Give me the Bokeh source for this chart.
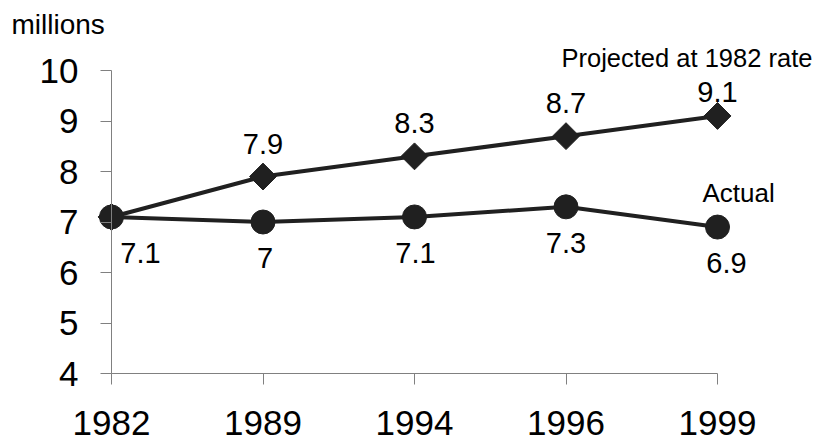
import numpy as np
from bokeh.plotting import figure
from bokeh.models import Range1d, FixedTicker, ColumnDataSource, LabelSet, Label, LinearAxis
from bokeh.core.properties import value
from bokeh.embed import file_html
from bokeh.resources import INLINE

# ---- data ----
years = ["1982", "1989", "1994", "1996", "1999"]
projected = [7.1, 7.9, 8.3, 8.7, 9.1]
actual = [7.1, 7.0, 7.1, 7.3, 6.9]
y_ticks = [4, 5, 6, 7, 8, 9, 10]

# ---- style helpers (offsets of the data labels, in px) ----
proj_label_dy = [23, 23, 23, 14]
act_label_dx = [29, 2, 1, 0, 9]

FONT = "Liberation Sans"
INK = "#202020"
AXIS = "#808080"

xs = list(range(len(years)))

W, H = 815, 441
KX, KY = 151.5, 50.5          # px per unit
X0PX, Y10PX = 111, 70         # where x=0 and y=10 sit on the canvas
x0 = -X0PX / KX
x1 = x0 + W / KX
y1 = 10 + Y10PX / KY
y0 = y1 - H / KY

p = figure(width=W, height=H, output_backend="svg", toolbar_location=None,
           x_range=Range1d(x0, x1), y_range=Range1d(y0, y1),
           x_axis_location=None, y_axis_location=None,
           min_border_left=0, min_border_right=0, min_border_top=0, min_border_bottom=0)
p.outline_line_color = None
p.grid.visible = False
p.background_fill_color = "white"
p.border_fill_color = "white"

xa = LinearAxis(ticker=FixedTicker(ticks=xs),
                major_label_overrides={i: y for i, y in enumerate(years)},
                bounds=(xs[0], xs[-1]), fixed_location=y_ticks[0],
                major_label_standoff=26)
ya = LinearAxis(ticker=FixedTicker(ticks=y_ticks),
                bounds=(y_ticks[0], y_ticks[-1]), fixed_location=xs[0],
                major_label_standoff=22)
for ax in (xa, ya):
    ax.axis_line_color = AXIS
    ax.major_tick_line_color = AXIS
    ax.minor_tick_line_color = None
    ax.major_tick_in = 0
    ax.major_tick_out = 11
    ax.major_label_text_font = FONT
    ax.major_label_text_font_size = "35px"
    ax.major_label_text_color = "black"
p.add_layout(xa, "below")
p.add_layout(ya, "left")

# lines and markers
p.line(xs, projected, line_color=INK, line_width=4)
p.line(xs, actual, line_color=INK, line_width=4)
p.scatter(xs, projected, marker="square", size=19, angle=np.pi / 4,
          fill_color=INK, line_color=INK)
p.scatter(xs, actual, marker="circle", size=24, fill_color=INK, line_color=INK)

# data labels
proj_src = ColumnDataSource(dict(x=xs[1:], y=projected[1:],
                                 t=[f"{v:g}" for v in projected[1:]], dy=proj_label_dy))
p.add_layout(LabelSet(x="x", y="y", text="t", source=proj_src, y_offset="dy",
                      text_align="center", text_baseline="alphabetic",
                      text_font=value(FONT), text_font_size=value("29px"), text_color="black"))
act_src = ColumnDataSource(dict(x=xs, y=actual,
                                t=[f"{v:g}" for v in actual], dx=act_label_dx))
p.add_layout(LabelSet(x="x", y="y", text="t", source=act_src, x_offset="dx", y_offset=-26,
                      text_align="center", text_baseline="top",
                      text_font=value(FONT), text_font_size=value("29px"), text_color="black"))

# text annotations
p.add_layout(Label(x=-100 / KX, y=10 + 46 / KY, text="millions", text_font=FONT,
                   text_font_size="28px", text_baseline="alphabetic", text_color="black"))
p.add_layout(Label(x=xs[-1] - 156 / KX, y=projected[-1] + 58 / KY, text="Projected at 1982 rate",
                   text_font=FONT, text_font_size="25.5px", text_baseline="alphabetic", text_color="black"))
p.add_layout(Label(x=xs[-1] - 15 / KX, y=actual[-1] + 34 / KY, text="Actual",
                   text_font=FONT, text_font_size="26px", text_baseline="alphabetic", text_color="black"))

open("out.html", "w").write(file_html(p, INLINE))
